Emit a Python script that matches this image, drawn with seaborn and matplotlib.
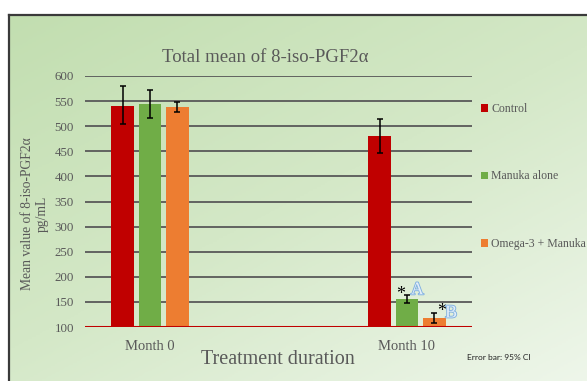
import numpy as np
import pandas as pd
import seaborn as sns
import matplotlib.pyplot as plt
import matplotlib.patheffects as pe
from matplotlib.patches import Patch
from matplotlib.colors import LinearSegmentedColormap

# Données
periods = ["Month 0", "Month 10"]
groups = ["Control", "Manuka alone", "Omega-3 + Manuka"]
control = [541, 480]
manuka = [544, 156]
omega = [538, 117]
ci_low = {"Control": [504, 446], "Manuka alone": [517, 148], "Omega-3 + Manuka": [528, 108]}
ci_high = {"Control": [580, 514], "Manuka alone": [572, 163], "Omega-3 + Manuka": [549, 128]}
colors = ["#c00000", "#70ad47", "#ed7d31"]
grey = "#595959"

df = pd.DataFrame({
    "period": periods * 3,
    "group": [g for g in groups for _ in periods],
    "value": control + manuka + omega,
})

sns.set_style("white")
serif = ["Liberation Serif", "DejaVu Serif"]
plt.rcParams["font.family"] = serif

fig = plt.figure(figsize=(5.87, 3.81), dpi=100)

# fond dégradé vert + cadre
bg = fig.add_axes([9 / 587, 0, 1 - 9 / 587, 1 - 15 / 381], zorder=-5)
cmap = LinearSegmentedColormap.from_list("vert", ["#c2deb0", "#d4e8c7", "#eef6ea"])
yy, xx = np.mgrid[0:1:200j, 0:1:300j]
bg.imshow(0.5 * xx + 0.6 * yy, cmap=cmap, aspect="auto", extent=[0, 1, 0, 1], origin="upper")
bg.set_xlim(0, 1)
bg.set_ylim(0, 1)
bg.set_xticks([])
bg.set_yticks([])
for s in ["right", "bottom"]:
    bg.spines[s].set_visible(False)
for s in ["top", "left"]:
    bg.spines[s].set_color("#3a3a3a")
    bg.spines[s].set_linewidth(1.6)

ax = fig.add_axes([85 / 587, 1 - 327 / 381, 387 / 587, 251 / 381])
ax.set_facecolor("none")
sns.barplot(data=df, x="period", y="value", hue="group", palette=colors,
            saturation=1, width=0.32, gap=0.17, errorbar=None, ax=ax, zorder=3,
            linewidth=0, legend=False)

for cont, g in zip(ax.containers, groups):
    xs = [p.get_x() + p.get_width() / 2 for p in cont]
    vals = [p.get_height() for p in cont]
    lo = [v - l for v, l in zip(vals, ci_low[g])]
    hi = [h - v for v, h in zip(vals, ci_high[g])]
    ax.errorbar(xs, vals, yerr=[lo, hi], fmt="none", ecolor="black",
                elinewidth=1.1, capsize=2, capthick=1.1, zorder=4)

ax.set_ylim(100, 600)
ax.set_xlim(-0.253, 1.253)
ax.set_yticks(range(100, 601, 50))
ax.yaxis.grid(True, color=grey, linewidth=1.3, zorder=0)
ax.set_axisbelow(True)
ax.axhline(100, color="#c00000", linewidth=2.2, zorder=5)
sns.despine(ax=ax, left=True, bottom=True)
ax.tick_params(axis="both", length=0, colors=grey)
ax.tick_params(axis="y", labelsize=9.3, pad=8)
ax.tick_params(axis="x", labelsize=10.5, pad=9)
ax.set_xlabel("")
ax.set_ylabel("")

# astérisques et lettres
xm = ax.containers[1][1].get_x() + ax.containers[1][1].get_width() / 2
xo = ax.containers[2][1].get_x() + ax.containers[2][1].get_width() / 2
ax.text(xm - 0.025, 164, "*", fontsize=13, ha="center", va="center", color="black", zorder=6)
ax.text(xm + 0.04, 174, "A", fontsize=13, ha="center", va="center", color="#e3eef9", zorder=6,
        path_effects=[pe.withStroke(linewidth=1.3, foreground="#7fb0e0")])
ax.text(xo + 0.03, 131, "*", fontsize=13, ha="center", va="center", color="black", zorder=6)
ax.text(xo + 0.065, 128, "B", fontsize=13, ha="center", va="center", color="#e3eef9", zorder=6,
        path_effects=[pe.withStroke(linewidth=1.3, foreground="#7fb0e0")])

# légende à droite
handles = [Patch(facecolor=c, edgecolor="none", label=g) for c, g in zip(colors, groups)]
leg = fig.legend(handles=handles, loc="upper left", bbox_to_anchor=(481 / 587, 1 - 103 / 381),
                 frameon=False, prop={"family": serif, "size": 8.5},
                 handlelength=0.6, handleheight=0.6, handletextpad=0.25,
                 labelspacing=4.7, borderaxespad=0, borderpad=0)
for t in leg.get_texts():
    t.set_color(grey)

fig.text(265 / 587, 1 - 57 / 381, "Total mean of 8-iso-PGF2α", fontsize=13.5,
         color=grey, ha="center", va="center")
fig.text(278 / 587, 1 - 359 / 381, "Treatment duration", fontsize=14.5,
         color=grey, ha="center", va="center")
fig.text(35 / 587, 1 - 214 / 381, "Mean value of 8-iso-PGF2α\npg/mL", fontsize=9.8,
         color=grey, ha="center", va="center", rotation=90, linespacing=1.25)
fig.text(467 / 587, 1 - 357 / 381, "Error bar: 95% CI", fontsize=6, family="Lato",
         color="#222222", ha="left", va="center")

fig.savefig("out.png", dpi=100)
